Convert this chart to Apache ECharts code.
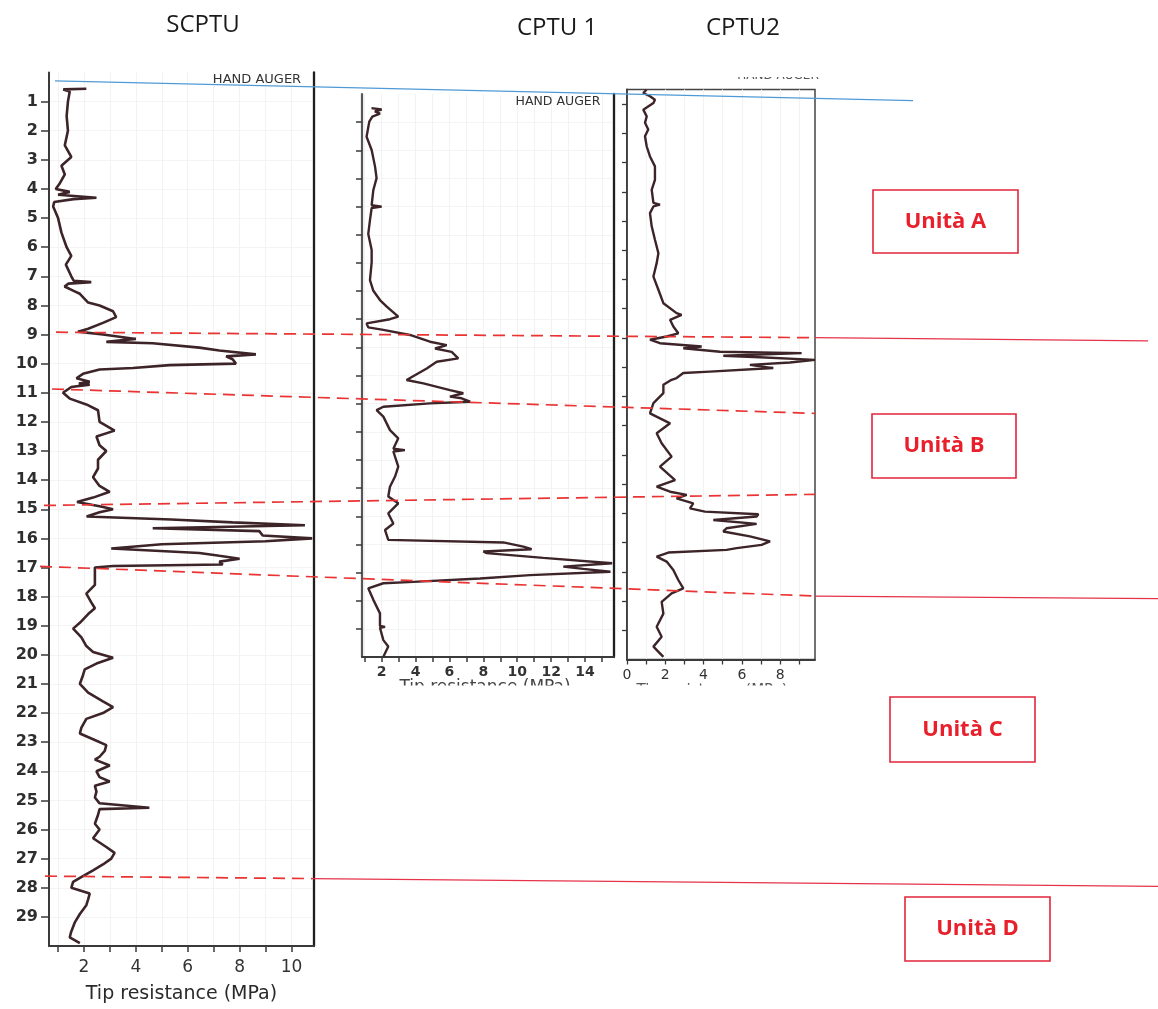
<!DOCTYPE html>
<html>
<head>
<meta charset="utf-8">
<script src="https://cdn.jsdelivr.net/npm/echarts@6/dist/echarts.min.js"></script>
<style>
html,body{margin:0;padding:0;background:#fff;}
#chart{width:1158px;height:1009px;}
</style>
</head>
<body>
<div id="chart"></div>
<script>
// ---------------- DATA ----------------
// SCPTU profile: depth (m) and tip resistance qc (MPa)
const scptuDepth = [0.56,0.58,0.65,1.0,1.5,2.0,2.5,2.9,3.2,3.5,3.8,4.0,4.1,4.2,4.3,4.35,4.45,4.6,5.0,5.5,6.0,6.3,6.6,7.0,7.15,7.2,7.25,7.35,7.5,7.6,7.9,8.0,8.2,8.4,8.6,8.8,8.9,9.0,9.15,9.25,9.3,9.45,9.55,9.68,9.75,9.85,10.0,10.05,10.15,10.2,10.35,10.5,10.62,10.68,10.72,10.8,11.0,11.2,11.4,11.6,12.0,12.3,12.5,12.8,13.0,13.3,13.6,13.9,14.2,14.4,14.6,14.75,14.9,15.0,15.1,15.25,15.35,15.45,15.55,15.65,15.75,15.9,16.0,16.1,16.2,16.35,16.5,16.6,16.7,16.8,16.9,16.95,17.0,17.3,17.6,17.9,18.2,18.4,18.6,18.9,19.1,19.4,19.7,19.9,20.1,20.3,20.5,20.7,21.0,21.3,21.6,21.8,22.0,22.2,22.5,22.7,22.9,23.1,23.3,23.5,23.6,23.8,24.0,24.2,24.35,24.5,24.7,24.9,25.1,25.25,25.3,25.5,25.8,26.0,26.3,26.6,26.8,27.0,27.2,27.4,27.6,27.8,28.0,28.2,28.4,28.6,28.9,29.2,29.5,29.7,29.9];
const scptuQc = [2.09,1.2,1.45,1.38,1.33,1.38,1.26,1.51,1.13,1.26,1.07,0.91,1.45,1.0,2.48,1.6,0.85,0.81,1.0,1.13,1.33,1.51,1.30,1.51,1.6,2.28,1.4,1.25,1.6,1.84,2.16,2.6,3.12,3.24,2.73,2.16,1.77,2.73,4.0,2.86,4.65,6.45,7.22,8.63,7.48,7.73,7.86,5.3,3.89,2.6,1.96,1.71,2.22,1.8,2.22,1.51,1.19,1.45,2.09,2.54,2.6,3.18,2.48,2.6,2.86,2.54,2.54,2.35,2.6,2.99,2.35,1.73,2.6,3.12,2.6,2.1,5.36,7.73,10.52,4.65,8.76,8.89,10.8,9.0,5.0,3.05,6.45,7.22,8.0,7.22,7.35,3.12,2.42,2.42,2.42,2.09,2.28,2.42,2.16,1.84,1.58,1.90,2.09,2.35,3.12,2.48,2.03,1.96,1.84,2.16,2.73,3.12,2.73,2.09,1.90,1.84,2.35,2.86,2.80,2.6,2.42,2.99,2.48,2.6,2.99,2.42,2.48,2.42,2.6,4.52,2.6,2.54,2.42,2.6,2.35,2.86,3.18,3.05,2.73,2.35,1.96,1.58,1.51,2.22,2.16,2.09,1.84,1.64,1.51,1.45,1.84];

// CPTU 1 profile
const cptu1Depth = [0.5,0.55,0.62,0.7,0.8,0.98,1.52,1.99,2.58,2.99,3.41,3.95,4.0,4.05,4.48,4.97,5.54,5.98,6.61,6.99,7.32,7.55,7.91,8.0,8.15,8.29,8.38,8.56,8.8,8.92,9.04,9.16,9.39,9.51,9.75,10.16,10.28,10.52,10.63,10.75,10.81,10.93,10.99,11.11,11.23,11.46,11.94,12.23,12.6,12.65,12.7,13.24,13.59,13.95,14.3,14.54,14.9,15.26,15.49,15.84,15.9,15.93,16.08,16.17,16.25,16.31,16.48,16.67,16.79,16.87,16.97,17.09,17.21,17.33,17.38,17.56,17.97,18.45,18.9,18.93,18.96,19.4,19.63,19.99];
const cptu1Qc = [1.4,2.0,1.6,1.9,1.45,1.27,1.11,1.41,1.61,1.70,1.51,1.41,2.0,1.41,1.31,1.21,1.41,1.41,1.31,1.51,1.90,2.30,2.98,2.49,1.11,1.21,2.1,3.67,4.85,5.84,5.15,6.13,6.52,5.25,4.66,3.47,4.46,6.03,6.82,6.03,6.72,7.22,4.85,2.1,1.70,2.1,2.49,2.98,2.69,3.37,2.69,2.98,2.79,2.49,2.39,2.98,2.39,2.69,2.2,2.39,2.49,9.18,10.36,10.85,8.0,8.2,11.54,15.6,12.72,13.9,15.5,10.75,7.8,3.87,2.1,1.21,1.51,1.90,1.90,2.2,1.90,2.1,2.39,2.1];

// CPTU 2 profile
const cptu2Depth = [0.5,0.62,0.73,0.85,0.96,1.19,1.42,1.64,1.87,2.1,2.45,2.79,3.13,3.18,3.59,3.93,4.38,4.44,4.5,4.73,5.18,5.64,6.1,6.44,6.9,7.35,7.81,8.15,8.21,8.38,8.61,8.84,8.95,9.06,9.18,9.29,9.35,9.47,9.52,9.61,9.66,9.75,9.84,9.92,10.03,10.15,10.2,10.37,10.43,10.6,10.89,11.23,11.58,11.92,12.26,12.6,13.06,13.4,13.86,14.09,14.26,14.37,14.49,14.66,14.83,14.94,15.03,15.11,15.23,15.36,15.51,15.62,15.79,15.96,16.08,16.19,16.25,16.34,16.48,16.65,16.94,17.28,17.57,17.74,18.03,18.43,18.88,19.22,19.56,19.91];
const cptu2Qc = [1.03,0.85,1.2,1.46,1.38,0.85,1.03,0.94,1.11,0.94,1.03,1.2,1.46,1.55,1.46,1.29,1.38,1.72,1.38,1.2,1.29,1.46,1.64,1.55,1.38,1.64,1.9,2.59,2.85,2.25,2.42,2.68,2.07,1.2,1.72,3.9,2.94,4.86,9.12,5.03,6.94,9.82,8.51,6.42,7.64,4.33,2.94,2.59,2.33,1.9,1.9,1.38,1.2,2.25,1.55,1.81,2.33,1.72,2.51,1.55,2.25,3.12,2.59,3.46,3.29,4.07,6.86,6.77,4.51,6.77,5.2,5.03,6.42,7.47,7.03,5.73,5.2,2.16,1.55,2.07,2.42,2.68,2.94,2.33,1.81,1.9,1.55,1.81,1.38,1.9];

// Tick values / labels
const scptuDepthTicks = [1,2,3,4,5,6,7,8,9,10,11,12,13,14,15,16,17,18,19,20,21,22,23,24,25,26,27,28,29];
const cptuDepthTicks = [1,2,3,4,5,6,7,8,9,10,11,12,13,14,15,16,17,18,19];
const scptuQcTicks = [1,2,3,4,5,6,7,8,9,10];
const scptuQcLabels = [2,4,6,8,10];
const cptu1QcTicks = [1,2,3,4,5,6,7,8,9,10,11,12,13,14,15];
const cptu1QcLabels = [2,4,6,8,10,12,14];
const cptu2QcTicks = [0,1,2,3,4,5,6,7,8,9];
const cptu2QcLabels = [0,2,4,6,8];

// Texts
const panelTitles = ['SCPTU', 'CPTU 1', 'CPTU2'];
const unitNames = ['Unità A', 'Unità B', 'Unità C', 'Unità D'];
const axisTitle = 'Tip resistance (MPa)';
const augerText = 'HAND AUGER';

// Interpreted unit boundaries (depth on SCPTU at left, depth on CPTU2 at right)
const boundaryDepthSCPTU = [8.92, 10.87, 14.87, 16.96, 27.6];
const boundaryDepthCPTU2 = [8.99, 11.58, 14.35, 17.83, 27.76];
const boundaryExtendDepth = [9.10, null, null, 17.92, 27.76];
const groundLineDepth = [0.29, 0.88]; // SCPTU left, CPTU2 frame right

// ---------------- CHART ----------------
const zip = (a, b) => a.slice(0, Math.min(a.length, b.length)).map((v, i) => [b[i], v]);
const FONT = 'DejaVu Sans';
const AX = '#3a3a3a';
const CURVE = '#3d2428';

function hiddenBorderY(grid, min, max) {
  return {gridIndex: grid, type: 'value', position: 'right', min, max, inverse: true,
    axisLine: {show: true, onZero: false, lineStyle: {color: '#1e1e1e', width: 2.3}},
    axisTick: {show: false}, axisLabel: {show: false}, splitLine: {show: false}};
}

const option = {
  animation: false,
  backgroundColor: '#ffffff',
  grid: [
    {left: 49, top: 72.5, width: 265, height: 876},
    {left: 362, top: 94, width: 252, height: 563},
    {left: 627, top: 89.5, width: 188, height: 570, show: true, borderColor: '#444', borderWidth: 1.5, backgroundColor: 'transparent'}
  ],
  xAxis: [
    {gridIndex: 0, type: 'value', min: 0.65, max: 10.87,
      axisLine: {show: true, onZero: false, lineStyle: {color: AX, width: 2}},
      axisTick: {show: true, length: 6, customValues: scptuQcTicks, lineStyle: {color: AX, width: 1.5}},
      axisLabel: {customValues: scptuQcLabels, fontFamily: FONT, fontSize: 17, color: '#333', margin: 13},
      splitLine: {show: true, lineStyle: {color: '#f2f2f2', width: 1}},
      name: axisTitle, nameLocation: 'middle', nameGap: 39,
      nameTextStyle: {fontFamily: FONT, fontSize: 19, color: '#2a2a2a'}},
    {gridIndex: 1, type: 'value', min: 0.84, max: 15.71,
      axisLine: {show: true, onZero: false, lineStyle: {color: AX, width: 2}},
      axisTick: {show: true, length: 5, customValues: cptu1QcTicks, lineStyle: {color: AX, width: 1.5}},
      axisLabel: {customValues: cptu1QcLabels, fontFamily: FONT, fontSize: 14, fontWeight: 'bold', color: '#333', margin: 8},
      splitLine: {show: true, lineStyle: {color: '#f2f2f2', width: 1}}},
    {gridIndex: 2, type: 'value', min: 0, max: 9.82,
      axisLine: {show: true, onZero: false, lineStyle: {color: AX, width: 1.8}},
      axisTick: {show: true, length: 5, customValues: cptu2QcTicks, lineStyle: {color: AX, width: 1.3}},
      axisLabel: {customValues: cptu2QcLabels, fontFamily: FONT, fontSize: 14, color: '#333', margin: 9},
      splitLine: {show: true, lineStyle: {color: '#f2f2f2', width: 1}}}
  ],
  yAxis: [
    {gridIndex: 0, type: 'value', min: 0, max: 30, inverse: true,
      axisLine: {show: true, onZero: false, lineStyle: {color: AX, width: 2}},
      axisTick: {show: true, length: 8, customValues: scptuDepthTicks, lineStyle: {color: AX, width: 1.5}},
      axisLabel: {customValues: scptuDepthTicks, fontFamily: FONT, fontSize: 16, fontWeight: 'bold', color: '#2e2e2e', margin: 11},
      splitLine: {show: true, lineStyle: {color: '#f4f4f4', width: 1}}},
    {gridIndex: 1, type: 'value', min: 0, max: 20, inverse: true,
      axisLine: {show: true, onZero: false, lineStyle: {color: '#555', width: 2.2}},
      axisTick: {show: true, length: 6, customValues: cptuDepthTicks, lineStyle: {color: AX, width: 1.5}},
      axisLabel: {show: false},
      splitLine: {show: true, lineStyle: {color: '#f4f4f4', width: 1}}},
    {gridIndex: 2, type: 'value', min: 0.5, max: 20, inverse: true,
      axisLine: {show: true, onZero: false, lineStyle: {color: AX, width: 1.8}},
      axisTick: {show: true, length: 5, customValues: cptuDepthTicks, lineStyle: {color: AX, width: 1.3}},
      axisLabel: {show: false},
      splitLine: {show: false}},
    hiddenBorderY(0, 0, 30),
    hiddenBorderY(1, 0, 20)
  ],
  series: [
    {type: 'line', xAxisIndex: 0, yAxisIndex: 0, data: zip(scptuDepth, scptuQc), showSymbol: false, symbol: 'none', clip: true,
      lineStyle: {color: CURVE, width: 2.6}, z: 5},
    {type: 'line', xAxisIndex: 1, yAxisIndex: 1, data: zip(cptu1Depth, cptu1Qc), showSymbol: false, symbol: 'none', clip: true,
      lineStyle: {color: CURVE, width: 2.4}, z: 5},
    {type: 'line', xAxisIndex: 2, yAxisIndex: 2, data: zip(cptu2Depth, cptu2Qc), showSymbol: false, symbol: 'none', clip: true,
      lineStyle: {color: CURVE, width: 2.4}, z: 5}
  ]
};

const chart = echarts.init(document.getElementById('chart'), null, {renderer: 'canvas'});
chart.setOption(option);

// ---------------- ANNOTATIONS ----------------
const yS = d => chart.convertToPixel({yAxisIndex: 0}, d);   // SCPTU depth -> px
const yC2 = d => chart.convertToPixel({yAxisIndex: 2}, d);  // CPTU2 depth -> px
const RED = '#ea3434';
const RED_SOLID = '#e6334a';
const dashStyle = {stroke: RED, lineWidth: 1.7, lineDash: [12, 7]};
const solidStyle = {stroke: RED_SOLID, lineWidth: 1.3};
const g = [];

// ground / top line (blue)
g.push({type: 'line', z: 50, shape: {x1: 55, y1: yS(groundLineDepth[0]), x2: 913, y2: yC2(groundLineDepth[1])},
  style: {stroke: '#4f9ad6', lineWidth: 1.3}});

const leftStart = [56, 52, 44, 40, 45];
const rightEnd = [1148, null, null, 1158, 1158];
boundaryDepthSCPTU.forEach((d, i) => {
  const x1 = leftStart[i], y1 = yS(d);
  if (i < 4) {
    const x2 = 815, y2 = yC2(boundaryDepthCPTU2[i]);
    g.push({type: 'line', z: 50, shape: {x1, y1, x2, y2}, style: dashStyle});
    if (boundaryExtendDepth[i] != null) {
      g.push({type: 'line', z: 50, shape: {x1: x2, y1: y2, x2: rightEnd[i], y2: yC2(boundaryExtendDepth[i])}, style: solidStyle});
    }
  } else {
    const xe = rightEnd[i], ye = yC2(boundaryExtendDepth[i]);
    const xm = 312, ym = y1 + (ye - y1) * (xm - x1) / (xe - x1);
    g.push({type: 'line', z: 50, shape: {x1, y1, x2: xm, y2: ym}, style: dashStyle});
    g.push({type: 'line', z: 50, shape: {x1: xm, y1: ym, x2: xe, y2: ye}, style: solidStyle});
  }
});

// panel titles
const titlePos = [[203, 25], [557, 28], [743, 28]];
panelTitles.forEach((t, i) => g.push({type: 'text', z: 60, x: titlePos[i][0], y: titlePos[i][1],
  style: {text: t, font: '24px "Open Sans"', fill: '#1a1a1a', align: 'center', verticalAlign: 'middle'}}));

// HAND AUGER labels
g.push({type: 'text', z: 60, x: 257, y: 80, style: {text: augerText, font: '13px "DejaVu Sans"', fill: '#333', align: 'center', verticalAlign: 'middle'}});
g.push({type: 'text', z: 60, x: 558, y: 102, style: {text: augerText, font: '12.5px "DejaVu Sans"', fill: '#333', align: 'center', verticalAlign: 'middle'}});
g.push({type: 'text', z: 60, x: 778, y: 76, style: {text: augerText, font: '12px "DejaVu Sans"', fill: '#555', align: 'center', verticalAlign: 'middle'}});
g.push({type: 'rect', z: 61, shape: {x: 735, y: 60, width: 90, height: 17}, style: {fill: '#fff'}});

// cut-off axis titles below CPTU 1 and CPTU2 (scan crop)
g.push({type: 'text', z: 60, x: 485, y: 688, style: {text: axisTitle, font: '17px "DejaVu Sans"', fill: '#444', align: 'center', verticalAlign: 'middle'}});
g.push({type: 'text', z: 60, x: 712, y: 691, style: {text: axisTitle, font: '15px "DejaVu Sans"', fill: '#555', align: 'center', verticalAlign: 'middle'}});
g.push({type: 'rect', z: 61, shape: {x: 370, y: 685.5, width: 420, height: 22}, style: {fill: '#fff'}});

// unit boxes
const boxRects = [[873, 190, 145, 63], [872, 414, 144, 64], [890, 697, 145, 65], [905, 897, 145, 64]];
unitNames.forEach((t, i) => {
  const [x, y, w, h] = boxRects[i];
  g.push({type: 'rect', z: 55, shape: {x, y, width: w, height: h}, style: {fill: '#fff', stroke: '#e2263a', lineWidth: 1.6}});
  g.push({type: 'text', z: 56, x: x + w / 2, y: y + h / 2, style: {text: t, font: 'bold 22px "Open Sans"', fill: '#e8202c', align: 'center', verticalAlign: 'middle'}});
});

chart.setOption({graphic: g});
</script>
</body>
</html>
